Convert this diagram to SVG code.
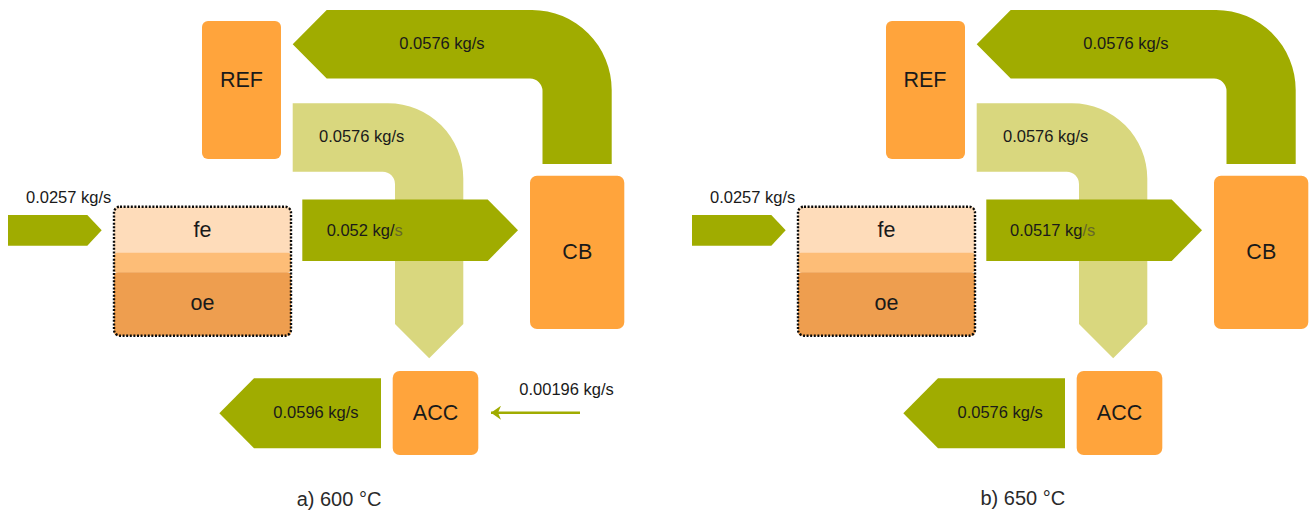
<svg xmlns="http://www.w3.org/2000/svg" width="1310" height="513" viewBox="0 0 1310 513">
  <style>
    .flow { fill: #a0ac00; }
    .flow-light { fill: #d9d77e; }
    .unit { fill: #ffa43c; }
    .fe { fill: #fedcba; }
    .mid { fill: #fdbd77; }
    .oe { fill: #ee9e4f; }
    .frame { fill: none; stroke: #0a0a0a; stroke-width: 2.4; stroke-dasharray: 2 1.6; }
    .lbl { font-family: "Liberation Sans", Arial, sans-serif; font-size: 16.5px; fill: #1a1a1a; }
    .name { font-family: "Liberation Sans", Arial, sans-serif; font-size: 21.5px; fill: #1a1a1a; text-anchor: middle; }
    .cap { font-family: "Liberation Sans", Arial, sans-serif; font-size: 20px; fill: #2a2a2a; text-anchor: middle; }
    .dim { fill: #66682a; }
    .thin { stroke: #a0ac00; stroke-width: 2.4; fill: none; }
  </style>
  <defs>
    <marker id="head" markerUnits="userSpaceOnUse" markerWidth="10" markerHeight="14" refX="10" refY="7" orient="auto">
      <path d="M0,0 L10,7 L0,14 L3,7 Z" fill="#a0ac00"/>
    </marker>
  </defs>
  <rect width="1310" height="513" fill="#ffffff"/>

  <!-- Panel a: 600 °C -->
  <g id="panel-a">
    <g id="connectors-a">
      <!-- CB to REF, bent return flow -->
      <path class="flow" d="M292.7 44.2 L326.7 10 H532 A79.7 80 0 0 1 611.7 90 V164 H542.5 V91 A12.5 12.5 0 0 0 530 78.5 H326.7 Z"/>
      <!-- REF to ACC, bent flow -->
      <path class="flow-light" d="M292.7 103.3 H388 A75.3 75.3 0 0 1 463.3 178.6 V324 L429.2 358.3 L395 324 V184 A12.3 12.3 0 0 0 382.7 171.7 H292.7 Z"/>
      <!-- reactor to CB -->
      <path class="flow" d="M302.3 199.5 H487.7 L518 230.2 L487.7 261 H302.3 Z"/>
      <!-- feed into reactor -->
      <path class="flow" d="M8 215 H87.3 L101.7 230.3 L87.3 245.7 H8 Z"/>
      <!-- ACC outlet -->
      <path class="flow" d="M381 378.3 V448.3 H254 L219.3 413.3 L254 378.3 Z"/>
      <!-- make-up into ACC -->
      <line class="thin" x1="580" y1="412.7" x2="491" y2="412.7" marker-end="url(#head)"/>

      <text class="lbl" x="399.3" y="49.3">0.0576 kg/s</text>
      <text class="lbl" x="319" y="141.7">0.0576 kg/s</text>
      <text class="lbl" x="326.7" y="235.7">0.052 kg/<tspan class="dim">s</tspan></text>
      <text class="lbl" x="26" y="203.3">0.0257 kg/s</text>
      <text class="lbl" x="273.3" y="417.7">0.0596 kg/s</text>
      <text class="lbl" x="519.3" y="395">0.00196 kg/s</text>
    </g>
    <g id="ref-a">
      <rect class="unit" x="202" y="21" width="79" height="138" rx="6"/>
      <text class="name" x="241.5" y="87.3">REF</text>
    </g>
    <g id="cb-a">
      <rect class="unit" x="530" y="175.7" width="94.3" height="153.3" rx="7"/>
      <text class="name" x="577.3" y="259.3">CB</text>
    </g>
    <g id="acc-a">
      <rect class="unit" x="392.7" y="371" width="85.6" height="84" rx="7"/>
      <text class="name" x="435.5" y="420">ACC</text>
    </g>
    <g id="reactor-a">
      <rect class="fe" x="114" y="206.7" width="177" height="46.5" rx="4"/>
      <rect class="mid" x="114" y="252.8" width="177" height="19.8" rx="3"/>
      <rect class="oe" x="114" y="272.3" width="177" height="63.4" rx="4"/>
      <rect class="frame" x="114" y="206.7" width="177" height="129" rx="6"/>
      <text class="name" x="202.5" y="236.7">fe</text>
      <text class="name" x="202.5" y="310">oe</text>
    </g>
    <text class="cap" x="339" y="505.6">a) 600 °C</text>
  </g>

  <!-- Panel b: 650 °C -->
  <g id="panel-b" transform="translate(684 0)">
    <g id="connectors-b">
      <path class="flow" d="M292.7 44.2 L326.7 10 H532 A79.7 80 0 0 1 611.7 90 V164 H542.5 V91 A12.5 12.5 0 0 0 530 78.5 H326.7 Z"/>
      <path class="flow-light" d="M292.7 103.3 H388 A75.3 75.3 0 0 1 463.3 178.6 V324 L429.2 358.3 L395 324 V184 A12.3 12.3 0 0 0 382.7 171.7 H292.7 Z"/>
      <path class="flow" d="M302.3 199.5 H487.7 L518 230.2 L487.7 261 H302.3 Z"/>
      <path class="flow" d="M8 215 H87.3 L101.7 230.3 L87.3 245.7 H8 Z"/>
      <path class="flow" d="M381 378.3 V448.3 H254 L219.3 413.3 L254 378.3 Z"/>

      <text class="lbl" x="399.3" y="49.3">0.0576 kg/s</text>
      <text class="lbl" x="319" y="141.7">0.0576 kg/s</text>
      <text class="lbl" x="326" y="235.7">0.0517 kg<tspan class="dim">/s</tspan></text>
      <text class="lbl" x="26" y="203.3">0.0257 kg/s</text>
      <text class="lbl" x="273.5" y="418">0.0576 kg/s</text>
    </g>
    <g id="ref-b">
      <rect class="unit" x="202" y="21" width="79" height="138" rx="6"/>
      <text class="name" x="241" y="87.3">REF</text>
    </g>
    <g id="cb-b">
      <rect class="unit" x="530" y="175.7" width="94.3" height="153.3" rx="7"/>
      <text class="name" x="577.3" y="259.3">CB</text>
    </g>
    <g id="acc-b">
      <rect class="unit" x="392.7" y="371" width="85.6" height="84" rx="7"/>
      <text class="name" x="435.5" y="420">ACC</text>
    </g>
    <g id="reactor-b">
      <rect class="fe" x="114" y="206.7" width="177" height="46.5" rx="4"/>
      <rect class="mid" x="114" y="252.8" width="177" height="19.8" rx="3"/>
      <rect class="oe" x="114" y="272.3" width="177" height="63.4" rx="4"/>
      <rect class="frame" x="114" y="206.7" width="177" height="129" rx="6"/>
      <text class="name" x="202.5" y="236.7">fe</text>
      <text class="name" x="202.5" y="310">oe</text>
    </g>
    <text class="cap" x="338.8" y="505">b) 650 °C</text>
  </g>
</svg>
